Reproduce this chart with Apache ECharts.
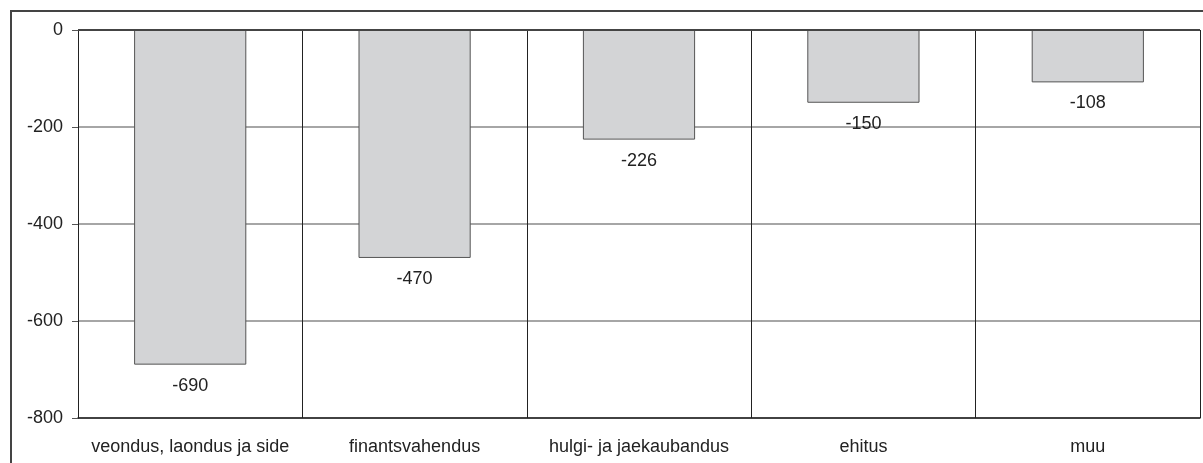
<!DOCTYPE html>
<html><head><meta charset="utf-8">
<script src="https://cdn.jsdelivr.net/npm/echarts@6/dist/echarts.min.js"></script>
<style>html,body{margin:0;padding:0;background:#fff}#c{width:1203px;height:463px}</style>
</head><body><div id="c"></div>
<script>
const categories = ['veondus, laondus ja side', 'finantsvahendus', 'hulgi- ja jaekaubandus', 'ehitus', 'muu'];
const values = [-690, -470, -226, -150, -108];
const yTicks = [0, -200, -400, -600, -800];

const chart = echarts.init(document.getElementById('c'), null, {renderer: 'canvas'});
const font = 'Liberation Sans, Arial, sans-serif';
chart.setOption({
  animation: false,
  graphic: [{
    type: 'rect', silent: true, z: 0,
    shape: {x: 11, y: 11, width: 1200, height: 470},
    style: {fill: 'none', stroke: '#444', lineWidth: 2}
  }],
  grid: {left: 78, right: 3, top: 30, bottom: 45, containLabel: false},
  xAxis: {
    type: 'category', data: categories, position: 'bottom',
    axisLine: {show: true, onZero: false, lineStyle: {color: '#222', width: 1.5}},
    axisTick: {show: false},
    splitLine: {show: true, lineStyle: {color: '#222', width: 1}},
    axisLabel: {color: '#222', fontSize: 18, fontFamily: font, margin: 20, interval: 0}
  },
  yAxis: {
    type: 'value', min: -800, max: 0, interval: 200,
    axisLine: {show: true, lineStyle: {color: '#222', width: 1}},
    axisTick: {show: true, length: 6, lineStyle: {color: '#555'}},
    splitLine: {show: true, lineStyle: {color: '#888', width: 1.5}},
    axisLabel: {color: '#222', fontSize: 18, fontFamily: font, margin: 15, padding: [4, 0, 0, 0],
      formatter: v => yTicks.includes(v) ? String(v) : ''}
  },
  series: [{
    type: 'bar', data: values, barCategoryGap: '50%',
    itemStyle: {color: '#d3d4d6', borderColor: '#555', borderWidth: 1},
    label: {show: true, position: 'bottom', distance: 12, color: '#222', fontSize: 18, fontFamily: font}
  }, {
    type: 'line', data: [], markLine: {silent: true, symbol: 'none', label: {show: false},
      lineStyle: {color: '#444', width: 2, type: 'solid'}, data: [{yAxis: 0}]}
  }]
});
</script></body></html>
